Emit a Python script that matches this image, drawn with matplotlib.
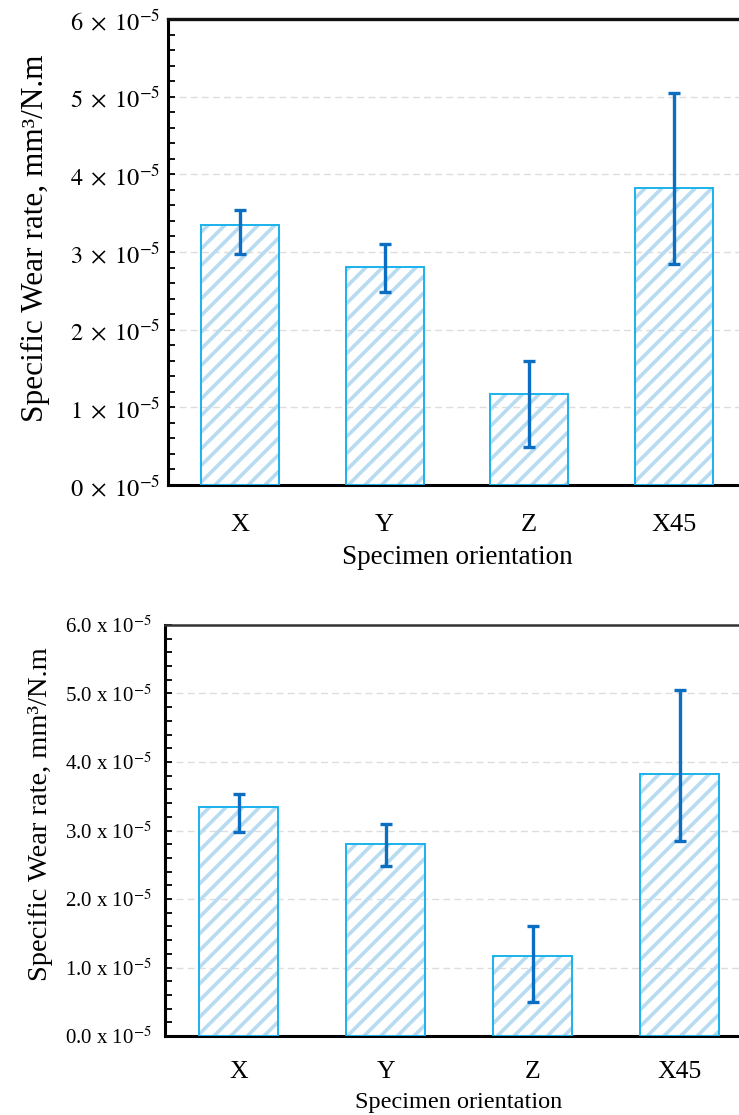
import numpy as np
import matplotlib.pyplot as plt
from matplotlib.ticker import MultipleLocator, FuncFormatter

orientations = ["X", "Y", "Z", "X45"]
wear_rate = [3.35e-5, 2.81e-5, 1.17e-5, 3.82e-5]
err_low = [0.37e-5, 0.33e-5, 0.68e-5, 0.98e-5]
err_high = [0.19e-5, 0.29e-5, 0.43e-5, 1.23e-5]

plt.rcParams['font.family'] = ['Liberation Serif', 'DejaVu Serif']
plt.rcParams['mathtext.fontset'] = 'stix'
plt.rcParams['hatch.linewidth'] = 2.6

edge_col = '#1ab2ec'
hatch_col = '#b7dbf1'
err_col = '#0b6ec2'

fig = plt.figure(figsize=(7.39, 11.15), dpi=100)
ax1 = fig.add_axes([168 / 739, 1 - 485 / 1115, 578 / 739, 466 / 1115])
ax2 = fig.add_axes([165 / 739, 1 - 1036 / 1115, 588 / 739, 411 / 1115])


def draw(ax, spine_top_col, spine_top_w):
    x = np.arange(len(orientations))
    ax.bar(x, wear_rate, 0.54, color='none', edgecolor=hatch_col, hatch='//',
           linewidth=0, zorder=2)
    ax.bar(x, wear_rate, 0.54, fill=False, edgecolor=edge_col, linewidth=1.4,
           zorder=3)
    ax.errorbar(x, wear_rate, yerr=[err_low, err_high], fmt='none',
                ecolor=err_col, elinewidth=2.4, capsize=4.5, capthick=2.4,
                zorder=4)
    ax.set_xlim(-0.5, len(orientations) - 0.5)
    ax.set_ylim(0, 6e-5)
    ax.set_xticks(x)
    ax.set_xticklabels(orientations)
    ax.yaxis.set_major_locator(MultipleLocator(1e-5))
    ax.yaxis.set_minor_locator(MultipleLocator(0.2e-5))
    ax.tick_params(axis='y', which='both', direction='in', length=5,
                   width=1.3, right=False)
    ax.tick_params(axis='x', length=0)
    ax.spines['right'].set_visible(False)
    for s in ['left', 'bottom']:
        ax.spines[s].set_linewidth(2.2)
    ax.spines['top'].set_linewidth(spine_top_w)
    ax.spines['top'].set_color(spine_top_col)
    ax.grid(axis='y', which='major', color='#dddddd', linestyle=(0, (5, 3)),
            linewidth=1, zorder=0)
    ax.set_axisbelow(True)


draw(ax1, '#111111', 2.4)
ax1.yaxis.set_major_formatter(
    FuncFormatter(lambda v, p: r"$%d\;\times\;10^{-5}$" % round(v * 1e5)))
ax1.tick_params(axis='y', labelsize=17.5, pad=6)
ax1.tick_params(axis='x', labelsize=19, pad=21)
ax1.set_xlabel("Specimen orientation", fontsize=19.5)
ax1.set_ylabel("Specific Wear rate, mm³/N.m", fontsize=22.5)
ax1.xaxis.set_label_coords(0.5, -0.128)
ax1.yaxis.set_label_coords(-0.205, 0.53)

draw(ax2, '#333333', 1.8)
ax2.yaxis.set_major_formatter(
    FuncFormatter(lambda v, p: "%.1f x 10$^{\\mathrm{-5}}$" % (v * 1e5)))
ax2.tick_params(axis='y', labelsize=15, pad=10)
ax2.tick_params(axis='x', labelsize=18.5, pad=18)
ax2.set_xlabel("Specimen orientation", fontsize=17.5)
ax2.set_ylabel("Specific Wear rate, mm³/N.m", fontsize=20.5)
ax2.xaxis.set_label_coords(0.5, -0.137)
ax2.yaxis.set_label_coords(-0.19, 0.54)

fig.savefig("out.png", dpi=100)
